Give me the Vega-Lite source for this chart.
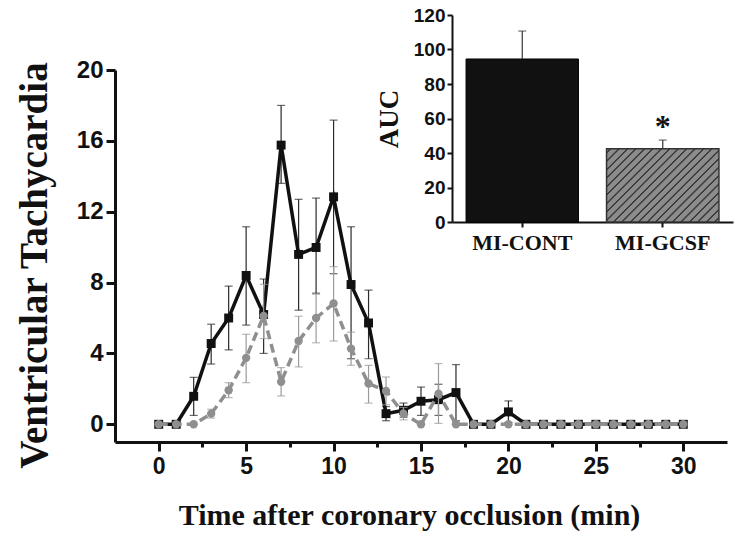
{
  "$schema": "https://vega.github.io/schema/vega-lite/v6.json",
  "width": 612,
  "height": 372,
  "autosize": "none",
  "padding": {"left": 115, "top": 70, "right": 19, "bottom": 102},
  "background": "white",
  "config": {
    "view": {"stroke": null},
    "axis": {
      "grid": false,
      "domainColor": "#111",
      "tickColor": "#111",
      "labelColor": "#111",
      "titleColor": "#111",
      "labelFont": "Liberation Sans",
      "labelFontWeight": "bold",
      "titleFont": "Liberation Serif",
      "titleFontWeight": "bold",
      "labelOverlap": false,
      "labelFlush": false
    }
  },
  "datasets": {
    "vt": [
      {"t": 0, "g": "MI-CONT", "v": 0},
      {"t": 1, "g": "MI-CONT", "v": 0},
      {"t": 2, "g": "MI-CONT", "v": 1.58, "lo": 0.5, "hi": 2.65},
      {"t": 3, "g": "MI-CONT", "v": 4.56, "lo": 3.4, "hi": 5.65},
      {"t": 4, "g": "MI-CONT", "v": 6.0, "lo": 4.2, "hi": 7.8},
      {"t": 5, "g": "MI-CONT", "v": 8.4, "lo": 5.6, "hi": 11.15},
      {"t": 6, "g": "MI-CONT", "v": 6.2, "lo": 4.0, "hi": 8.2},
      {"t": 7, "g": "MI-CONT", "v": 15.76, "lo": 13.6, "hi": 18.0},
      {"t": 8, "g": "MI-CONT", "v": 9.59, "lo": 6.44, "hi": 12.7},
      {"t": 9, "g": "MI-CONT", "v": 9.98, "lo": 7.4, "hi": 12.77},
      {"t": 10, "g": "MI-CONT", "v": 12.84, "lo": 8.5, "hi": 17.17},
      {"t": 11, "g": "MI-CONT", "v": 7.89, "lo": 3.7, "hi": 11.15},
      {"t": 12, "g": "MI-CONT", "v": 5.72, "lo": 3.7, "hi": 7.57},
      {"t": 13, "g": "MI-CONT", "v": 0.6, "lo": 0.2, "hi": 1.0},
      {"t": 14, "g": "MI-CONT", "v": 0.79, "lo": 0.4, "hi": 1.2},
      {"t": 15, "g": "MI-CONT", "v": 1.3, "lo": 0.5, "hi": 2.1},
      {"t": 16, "g": "MI-CONT", "v": 1.39, "lo": 0.5, "hi": 2.26},
      {"t": 17, "g": "MI-CONT", "v": 1.79, "lo": 0.2, "hi": 3.37},
      {"t": 18, "g": "MI-CONT", "v": 0},
      {"t": 19, "g": "MI-CONT", "v": 0},
      {"t": 20, "g": "MI-CONT", "v": 0.7, "lo": 0.1, "hi": 1.32},
      {"t": 21, "g": "MI-CONT", "v": 0},
      {"t": 22, "g": "MI-CONT", "v": 0},
      {"t": 23, "g": "MI-CONT", "v": 0},
      {"t": 24, "g": "MI-CONT", "v": 0},
      {"t": 25, "g": "MI-CONT", "v": 0},
      {"t": 26, "g": "MI-CONT", "v": 0},
      {"t": 27, "g": "MI-CONT", "v": 0},
      {"t": 28, "g": "MI-CONT", "v": 0},
      {"t": 29, "g": "MI-CONT", "v": 0},
      {"t": 30, "g": "MI-CONT", "v": 0},
      {"t": 0, "g": "MI-GCSF", "v": 0},
      {"t": 1, "g": "MI-GCSF", "v": 0},
      {"t": 2, "g": "MI-GCSF", "v": 0},
      {"t": 3, "g": "MI-GCSF", "v": 0.6, "lo": 0.35, "hi": 0.85},
      {"t": 4, "g": "MI-GCSF", "v": 1.92, "lo": 1.5, "hi": 2.35},
      {"t": 5, "g": "MI-GCSF", "v": 3.75, "lo": 2.35, "hi": 5.08},
      {"t": 6, "g": "MI-GCSF", "v": 6.12, "lo": 4.84, "hi": 7.9},
      {"t": 7, "g": "MI-GCSF", "v": 2.4, "lo": 1.6, "hi": 3.2},
      {"t": 8, "g": "MI-GCSF", "v": 4.7, "lo": 3.24, "hi": 6.1},
      {"t": 9, "g": "MI-GCSF", "v": 6.0, "lo": 4.6, "hi": 7.34},
      {"t": 10, "g": "MI-GCSF", "v": 6.82, "lo": 4.7, "hi": 8.9},
      {"t": 11, "g": "MI-GCSF", "v": 4.27, "lo": 3.33, "hi": 5.2},
      {"t": 12, "g": "MI-GCSF", "v": 2.3, "lo": 1.2, "hi": 3.33},
      {"t": 13, "g": "MI-GCSF", "v": 1.88, "lo": 1.1, "hi": 2.67},
      {"t": 14, "g": "MI-GCSF", "v": 0.6, "lo": 0.25, "hi": 0.95},
      {"t": 15, "g": "MI-GCSF", "v": 0},
      {"t": 16, "g": "MI-GCSF", "v": 1.73, "lo": 0.05, "hi": 3.43},
      {"t": 17, "g": "MI-GCSF", "v": 0},
      {"t": 18, "g": "MI-GCSF", "v": 0},
      {"t": 19, "g": "MI-GCSF", "v": 0},
      {"t": 20, "g": "MI-GCSF", "v": 0},
      {"t": 21, "g": "MI-GCSF", "v": 0},
      {"t": 22, "g": "MI-GCSF", "v": 0},
      {"t": 23, "g": "MI-GCSF", "v": 0},
      {"t": 24, "g": "MI-GCSF", "v": 0},
      {"t": 25, "g": "MI-GCSF", "v": 0},
      {"t": 26, "g": "MI-GCSF", "v": 0},
      {"t": 27, "g": "MI-GCSF", "v": 0},
      {"t": 28, "g": "MI-GCSF", "v": 0},
      {"t": 29, "g": "MI-GCSF", "v": 0},
      {"t": 30, "g": "MI-GCSF", "v": 0}
    ],
    "auc": [
      {"grp": "MI-CONT", "auc": 94.5, "hi": 110.7, "sig": ""},
      {"grp": "MI-GCSF", "auc": 42.5, "hi": 47.5, "sig": "*"}
    ]
  },
  "layer": [
    {
      "data": {"name": "vt"},
      "encoding": {
        "x": {
          "field": "t",
          "type": "quantitative",
          "scale": {"domain": [-2.5, 32.5], "nice": false, "zero": false},
          "axis": {
            "orient": "bottom",
            "title": "Time after coronary occlusion (min)",
            "titleFontSize": 30,
            "titlePadding": 22,
            "titleX": 294,
            "values": [0, 2.5, 5, 7.5, 10, 12.5, 15, 17.5, 20, 22.5, 25, 27.5, 30],
            "labelExpr": "datum.value % 5 === 0 ? datum.label : ''",
            "labelFontSize": 23,
            "labelPadding": 4,
            "domainWidth": 3,
            "tickWidth": 3,
            "tickSize": {"condition": {"test": "datum.value % 5 === 0", "value": 9}, "value": 5}
          }
        }
      },
      "layer": [
        {
          "transform": [{"filter": "datum.g === 'MI-CONT' && isValid(datum.hi)"}],
          "mark": {"type": "rule", "color": "#2a2a2a", "strokeWidth": 1.2},
          "encoding": {
            "y": {
              "field": "lo",
              "type": "quantitative",
              "title": "Ventricular Tachycardia",
              "scale": {"domain": [-1, 20], "nice": false, "zero": false},
              "axis": {
                "orient": "left",
                "values": [0, 2, 4, 6, 8, 10, 12, 14, 16, 18, 20],
                "labelExpr": "datum.value % 4 === 0 ? datum.label : ''",
                "labelFontSize": 24,
                "labelPadding": 3,
                "domainWidth": 3,
                "tickWidth": 3,
                "tickSize": {"condition": {"test": "datum.value % 4 === 0", "value": 9}, "value": 5},
                "titleFontSize": 39,
                "titlePadding": 22,
                "titleY": 195
              }
            },
            "y2": {"field": "hi"}
          }
        },
        {
          "transform": [{"filter": "datum.g === 'MI-CONT' && isValid(datum.hi)"}],
          "mark": {"type": "tick", "orient": "horizontal", "color": "#2a2a2a", "size": 8, "thickness": 1.2},
          "encoding": {
            "y": {"field": "lo", "type": "quantitative", "title": "Ventricular Tachycardia", "scale": {"domain": [-1, 20], "nice": false, "zero": false}}
          }
        },
        {
          "transform": [{"filter": "datum.g === 'MI-CONT' && isValid(datum.hi)"}],
          "mark": {"type": "tick", "orient": "horizontal", "color": "#2a2a2a", "size": 8, "thickness": 1.2},
          "encoding": {
            "y": {"field": "hi", "type": "quantitative", "title": "Ventricular Tachycardia", "scale": {"domain": [-1, 20], "nice": false, "zero": false}}
          }
        },
        {
          "transform": [{"filter": "datum.g === 'MI-CONT'"}],
          "mark": {"type": "line", "color": "#111", "strokeWidth": 3.5},
          "encoding": {
            "y": {"field": "v", "type": "quantitative", "title": "Ventricular Tachycardia", "scale": {"domain": [-1, 20], "nice": false, "zero": false}}
          }
        },
        {
          "transform": [{"filter": "datum.g === 'MI-CONT'"}],
          "mark": {"type": "point", "shape": "square", "filled": true, "size": 80, "color": "#111", "opacity": 1},
          "encoding": {
            "y": {"field": "v", "type": "quantitative", "title": "Ventricular Tachycardia", "scale": {"domain": [-1, 20], "nice": false, "zero": false}}
          }
        },
        {
          "transform": [{"filter": "datum.g === 'MI-GCSF' && isValid(datum.hi)"}],
          "mark": {"type": "rule", "color": "#9a9a9a", "strokeWidth": 1.2},
          "encoding": {
            "y": {"field": "lo", "type": "quantitative", "title": "Ventricular Tachycardia", "scale": {"domain": [-1, 20], "nice": false, "zero": false}},
            "y2": {"field": "hi"}
          }
        },
        {
          "transform": [{"filter": "datum.g === 'MI-GCSF' && isValid(datum.hi)"}],
          "mark": {"type": "tick", "orient": "horizontal", "color": "#9a9a9a", "size": 8, "thickness": 1.2},
          "encoding": {
            "y": {"field": "lo", "type": "quantitative", "title": "Ventricular Tachycardia", "scale": {"domain": [-1, 20], "nice": false, "zero": false}}
          }
        },
        {
          "transform": [{"filter": "datum.g === 'MI-GCSF' && isValid(datum.hi)"}],
          "mark": {"type": "tick", "orient": "horizontal", "color": "#9a9a9a", "size": 8, "thickness": 1.2},
          "encoding": {
            "y": {"field": "hi", "type": "quantitative", "title": "Ventricular Tachycardia", "scale": {"domain": [-1, 20], "nice": false, "zero": false}}
          }
        },
        {
          "transform": [{"filter": "datum.g === 'MI-GCSF'"}],
          "mark": {"type": "line", "color": "#8f8f8f", "strokeWidth": 3.5, "strokeDash": [9, 5]},
          "encoding": {
            "y": {"field": "v", "type": "quantitative", "title": "Ventricular Tachycardia", "scale": {"domain": [-1, 20], "nice": false, "zero": false}}
          }
        },
        {
          "transform": [{"filter": "datum.g === 'MI-GCSF'"}],
          "mark": {"type": "point", "shape": "circle", "filled": true, "size": 70, "color": "#8f8f8f", "opacity": 1},
          "encoding": {
            "y": {"field": "v", "type": "quantitative", "title": "Ventricular Tachycardia", "scale": {"domain": [-1, 20], "nice": false, "zero": false}}
          }
        }
      ]
    },
    {
      "data": {"name": "auc"},
      "encoding": {
        "x": {
          "field": "grp",
          "type": "nominal",
          "sort": ["MI-CONT", "MI-GCSF"],
          "scale": {"type": "band", "range": [337, 618], "paddingInner": 0.2, "paddingOuter": 0.1},
          "axis": {
            "orient": "bottom",
            "offset": -220,
            "title": null,
            "labelAngle": 0,
            "labelFont": "Liberation Serif",
            "labelFontSize": 22,
            "labelPadding": 5,
            "domainWidth": 2,
            "tickWidth": 2,
            "tickSize": 5
          }
        }
      },
      "layer": [
        {
          "transform": [{"filter": "datum.grp === 'MI-CONT'"}],
          "mark": {"type": "bar", "color": "#111", "stroke": "#000", "strokeWidth": 1},
          "encoding": {
            "y": {
              "field": "auc",
              "type": "quantitative",
              "title": "AUC",
              "scale": {"domain": [0, 120], "range": [152, -55], "nice": false, "zero": true},
              "axis": {
                "orient": "left",
                "offset": -337,
                "values": [0, 10, 20, 30, 40, 50, 60, 70, 80, 90, 100, 110, 120],
                "labelExpr": "datum.value % 20 === 0 ? datum.label : ''",
                "labelFontSize": 19,
                "labelPadding": 2,
                "domainWidth": 2,
                "tickWidth": 2,
                "tickSize": {"condition": {"test": "datum.value % 20 === 0", "value": 5}, "value": 3},
                "titleFontSize": 27,
                "titlePadding": 10
              }
            }
          }
        },
        {
          "transform": [{"filter": "datum.grp === 'MI-GCSF'"}],
          "mark": {
            "type": "bar",
            "stroke": "#333",
            "strokeWidth": 1.5,
            "fill": {
              "gradient": "linear",
              "x1": 0, "y1": 0, "x2": 1.159, "y2": 0.756,
              "stops": [
                {"offset": 0, "color": "#8c8c8c"},
                {"offset": 0.0157, "color": "#8c8c8c"}, {"offset": 0.0187, "color": "#3c3c3c"}, {"offset": 0.0267, "color": "#3c3c3c"}, {"offset": 0.0297, "color": "#8c8c8c"},
                {"offset": 0.0612, "color": "#8c8c8c"}, {"offset": 0.0642, "color": "#3c3c3c"}, {"offset": 0.0722, "color": "#3c3c3c"}, {"offset": 0.0752, "color": "#8c8c8c"},
                {"offset": 0.1066, "color": "#8c8c8c"}, {"offset": 0.1096, "color": "#3c3c3c"}, {"offset": 0.1176, "color": "#3c3c3c"}, {"offset": 0.1206, "color": "#8c8c8c"},
                {"offset": 0.1521, "color": "#8c8c8c"}, {"offset": 0.1551, "color": "#3c3c3c"}, {"offset": 0.1631, "color": "#3c3c3c"}, {"offset": 0.1661, "color": "#8c8c8c"},
                {"offset": 0.1975, "color": "#8c8c8c"}, {"offset": 0.2005, "color": "#3c3c3c"}, {"offset": 0.2085, "color": "#3c3c3c"}, {"offset": 0.2115, "color": "#8c8c8c"},
                {"offset": 0.2430, "color": "#8c8c8c"}, {"offset": 0.2460, "color": "#3c3c3c"}, {"offset": 0.2540, "color": "#3c3c3c"}, {"offset": 0.2570, "color": "#8c8c8c"},
                {"offset": 0.2885, "color": "#8c8c8c"}, {"offset": 0.2915, "color": "#3c3c3c"}, {"offset": 0.2995, "color": "#3c3c3c"}, {"offset": 0.3025, "color": "#8c8c8c"},
                {"offset": 0.3339, "color": "#8c8c8c"}, {"offset": 0.3369, "color": "#3c3c3c"}, {"offset": 0.3449, "color": "#3c3c3c"}, {"offset": 0.3479, "color": "#8c8c8c"},
                {"offset": 0.3794, "color": "#8c8c8c"}, {"offset": 0.3824, "color": "#3c3c3c"}, {"offset": 0.3904, "color": "#3c3c3c"}, {"offset": 0.3934, "color": "#8c8c8c"},
                {"offset": 0.4248, "color": "#8c8c8c"}, {"offset": 0.4278, "color": "#3c3c3c"}, {"offset": 0.4358, "color": "#3c3c3c"}, {"offset": 0.4388, "color": "#8c8c8c"},
                {"offset": 0.4703, "color": "#8c8c8c"}, {"offset": 0.4733, "color": "#3c3c3c"}, {"offset": 0.4813, "color": "#3c3c3c"}, {"offset": 0.4843, "color": "#8c8c8c"},
                {"offset": 0.5157, "color": "#8c8c8c"}, {"offset": 0.5187, "color": "#3c3c3c"}, {"offset": 0.5267, "color": "#3c3c3c"}, {"offset": 0.5297, "color": "#8c8c8c"},
                {"offset": 0.5612, "color": "#8c8c8c"}, {"offset": 0.5642, "color": "#3c3c3c"}, {"offset": 0.5722, "color": "#3c3c3c"}, {"offset": 0.5752, "color": "#8c8c8c"},
                {"offset": 0.6066, "color": "#8c8c8c"}, {"offset": 0.6096, "color": "#3c3c3c"}, {"offset": 0.6176, "color": "#3c3c3c"}, {"offset": 0.6206, "color": "#8c8c8c"},
                {"offset": 0.6521, "color": "#8c8c8c"}, {"offset": 0.6551, "color": "#3c3c3c"}, {"offset": 0.6631, "color": "#3c3c3c"}, {"offset": 0.6661, "color": "#8c8c8c"},
                {"offset": 0.6975, "color": "#8c8c8c"}, {"offset": 0.7005, "color": "#3c3c3c"}, {"offset": 0.7085, "color": "#3c3c3c"}, {"offset": 0.7115, "color": "#8c8c8c"},
                {"offset": 0.7430, "color": "#8c8c8c"}, {"offset": 0.7460, "color": "#3c3c3c"}, {"offset": 0.7540, "color": "#3c3c3c"}, {"offset": 0.7570, "color": "#8c8c8c"},
                {"offset": 0.7885, "color": "#8c8c8c"}, {"offset": 0.7915, "color": "#3c3c3c"}, {"offset": 0.7995, "color": "#3c3c3c"}, {"offset": 0.8025, "color": "#8c8c8c"},
                {"offset": 0.8339, "color": "#8c8c8c"}, {"offset": 0.8369, "color": "#3c3c3c"}, {"offset": 0.8449, "color": "#3c3c3c"}, {"offset": 0.8479, "color": "#8c8c8c"},
                {"offset": 0.8794, "color": "#8c8c8c"}, {"offset": 0.8824, "color": "#3c3c3c"}, {"offset": 0.8904, "color": "#3c3c3c"}, {"offset": 0.8934, "color": "#8c8c8c"},
                {"offset": 0.9248, "color": "#8c8c8c"}, {"offset": 0.9278, "color": "#3c3c3c"}, {"offset": 0.9358, "color": "#3c3c3c"}, {"offset": 0.9388, "color": "#8c8c8c"},
                {"offset": 0.9703, "color": "#8c8c8c"}, {"offset": 0.9733, "color": "#3c3c3c"}, {"offset": 0.9813, "color": "#3c3c3c"}, {"offset": 0.9843, "color": "#8c8c8c"},
                {"offset": 1, "color": "#8c8c8c"}
              ]
            }
          },
          "encoding": {
            "y": {"field": "auc", "type": "quantitative", "title": "AUC", "scale": {"domain": [0, 120], "range": [152, -55], "nice": false, "zero": true}}
          }
        },
        {
          "mark": {"type": "rule", "color": "#333", "strokeWidth": 1.2},
          "encoding": {
            "y": {"field": "auc", "type": "quantitative", "title": "AUC", "scale": {"domain": [0, 120], "range": [152, -55], "nice": false, "zero": true}},
            "y2": {"field": "hi"}
          }
        },
        {
          "mark": {"type": "tick", "orient": "horizontal", "color": "#333", "size": 8, "thickness": 1.2},
          "encoding": {
            "y": {"field": "hi", "type": "quantitative", "title": "AUC", "scale": {"domain": [0, 120], "range": [152, -55], "nice": false, "zero": true}}
          }
        },
        {
          "transform": [{"filter": "datum.sig !== ''"}],
          "mark": {"type": "text", "font": "Liberation Serif", "fontWeight": "bold", "fontSize": 32, "baseline": "bottom", "dy": 4, "color": "#111"},
          "encoding": {
            "y": {"field": "hi", "type": "quantitative", "title": "AUC", "scale": {"domain": [0, 120], "range": [152, -55], "nice": false, "zero": true}},
            "text": {"field": "sig"}
          }
        }
      ]
    }
  ],
  "resolve": {
    "scale": {"x": "independent", "y": "independent"},
    "axis": {"x": "independent", "y": "independent"}
  }
}
